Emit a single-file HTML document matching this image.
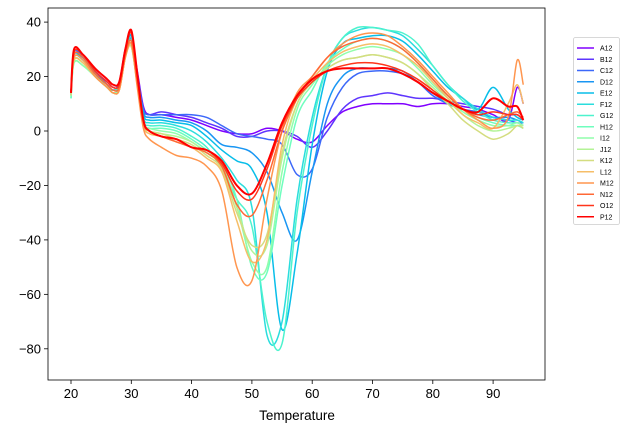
<!DOCTYPE html>
<html><head><meta charset="utf-8"><style>
body{margin:0;background:#fff;}
svg{display:block;font-family:"Liberation Sans","DejaVu Sans",sans-serif;}
</style></head><body>
<svg id="c" width="629" height="432" viewBox="0 0 629 432"></svg>
<script>
const temps=[20,20.5,22,24,26,27,28,29,30,31,32,33,35,37.5,40,42.5,45,47.5,50,52.5,55,57.5,60,62.5,65,67.5,70,72.5,75,77.5,80,82.5,85,87.5,90,92.5,94,95];
const seriesNames=["A12","B12","C12","D12","E12","F12","G12","H12","I12","J12","K12","L12","M12","N12","O12","P12"];
const sA=[13,28,27,22,18,16,17,28,34,22,9,6,6,5,4,2,0,-1,-1,1,0,-3,-4,2,7,9,10,10,10,9,10,10,9,8,6,4,16,10];
const sB=[14,29,27,22,17,15,17,29,35,21,8,6,7,6,5,3,1,-2,-2,0,0,-2,-6,0,8,12,13,14,13,12,12,11,10,9,8,6,6,4];
const sC=[14,29,27,22,17,15,18,30,35,21,8,6,6,6,6,5,2,-1,-2,-3,-5,-16,-14,5,16,21,22,22,21,18,13,10,8,7,5,4,3,3];
const sD=[14,28,27,21,17,15,17,30,35,21,7,5,5,4,3,0,-5,-6,-8,-15,-30,-40,-15,10,20,23,23,23,22,18,14,10,8,6,5,5,4,3];
const sE=[13,28,26,21,17,15,17,30,35,20,6,4,4,3,2,-2,-7,-11,-14,-30,-73,-45,-5,22,32,34,35,35,33,28,22,16,12,8,16,8,5,4];
const sF=[13,27,26,21,16,15,17,29,34,20,5,3,3,2,0,-4,-10,-18,-28,-75,-70,-25,5,24,34,37,38,37,35,30,24,17,12,8,5,4,4,3];
const sG=[12,26,25,20,16,15,17,29,33,19,4,2,2,1,-2,-6,-14,-25,-35,-70,-78,-30,2,24,34,38,38,37,36,32,24,17,11,7,4,3,3,2];
const sH=[12,25,24,20,16,14,16,28,32,18,3,1,1,0,-3,-7,-12,-25,-50,-52,-20,5,15,25,30,33,34,33,30,25,18,13,8,5,3,2,2,1];
const sI=[13,25,24,20,16,14,16,28,31,17,3,1,0,-1,-4,-8,-12,-28,-48,-50,-15,8,17,24,28,30,31,30,28,23,17,12,7,4,2,2,3,2];
const sJ=[13,26,25,20,16,14,15,27,31,17,3,0,-1,-2,-4,-8,-13,-28,-44,-42,-10,10,18,23,26,27,28,27,25,21,16,11,6,2,0,1,2,2];
const sK=[13,26,25,20,16,14,15,27,31,17,2,0,-1,-3,-5,-9,-14,-30,-42,-38,-8,10,18,23,26,27,28,27,25,21,15,10,4,0,-3,-1,2,1];
const sL=[14,26,25,20,16,14,15,27,32,17,2,-1,-2,-4,-6,-10,-15,-33,-48,-40,-5,12,19,25,29,31,32,31,28,24,18,12,6,3,1,10,17,10];
const sM=[14,27,26,20,16,14,15,27,32,16,1,-3,-6,-9,-10,-13,-22,-50,-55,-25,0,14,20,27,32,35,36,35,31,26,20,14,8,4,1,5,26,17];
const sN=[14,28,27,21,17,15,16,28,33,18,3,0,-2,-4,-6,-8,-13,-27,-31,-18,0,12,20,27,31,33,34,33,30,25,19,13,8,5,4,6,7,5];
const sO=[14,29,28,22,18,16,17,29,36,20,4,0,-2,-3,-6,-7,-12,-22,-25,-14,2,12,18,22,24,25,25,24,22,19,15,11,8,6,7,6,6,4];
const sP=[14,30,28,23,19,17,18,30,37,21,4,0,-2,-3,-6,-7,-11,-20,-23,-12,3,13,19,22,23,23,23,23,21,18,14,11,8,7,12,9,9,4];
const allSeries=[sA,sB,sC,sD,sE,sF,sG,sH,sI,sJ,sK,sL,sM,sN,sO,sP];
const xTicks=[20,30,40,50,60,70,80,90];
const yTicks=[40,20,0,-20,-40,-60,-80];

const NS="http://www.w3.org/2000/svg";
const svg=document.getElementById('c');
const L=48,R=545,T=8,B=380;
function x(t){return 71+(t-20)*6.03;}
function y(v){return 131-v*2.7225;}
function mk(tag,attrs,parent){const e=document.createElementNS(NS,tag);for(const k in attrs)e.setAttribute(k,attrs[k]);(parent||svg).appendChild(e);return e;}
function cl(v){return Math.max(0,Math.min(1,v));}
function color(i){const f=i/15;const r=cl(Math.abs(2*f-0.5)),g=cl(Math.sin(Math.PI*f)),b=cl(Math.cos(Math.PI*f/2));return `rgb(${Math.round(r*255)},${Math.round(g*255)},${Math.round(b*255)})`;}
// smooth path through points (Catmull-Rom)
function smoothPath(pts){
  let d='M'+pts[0][0].toFixed(1)+','+pts[0][1].toFixed(1);
  for(let i=0;i<pts.length-1;i++){
    const p0=pts[Math.max(0,i-1)],p1=pts[i],p2=pts[i+1],p3=pts[Math.min(pts.length-1,i+2)];
    const c1=[p1[0]+(p2[0]-p0[0])/6,p1[1]+(p2[1]-p0[1])/6];
    const c2=[p2[0]-(p3[0]-p1[0])/6,p2[1]-(p3[1]-p1[1])/6];
    d+=`C${c1[0].toFixed(1)},${c1[1].toFixed(1)} ${c2[0].toFixed(1)},${c2[1].toFixed(1)} ${p2[0].toFixed(1)},${p2[1].toFixed(1)}`;
  }
  return d;
}

const clip=mk('clipPath',{id:'pc'});mk('rect',{x:L,y:T,width:R-L,height:B-T},clip);
const lines=mk('g',{'clip-path':'url(#pc)'});


allSeries.forEach((s,i)=>{
  const p=mk('path',{d:smoothPath(s.map((v,j)=>[x(temps[j]),y(v)])),fill:'none',stroke:color(i),'stroke-width':i==15?2:1.5,'stroke-linejoin':'round'},lines);
  
  
});
const frame=mk('rect',{x:L,y:T,width:R-L,height:B-T,fill:'none',stroke:'#000','stroke-width':0.8});


xTicks.forEach(t=>{
  mk('line',{x1:x(t),x2:x(t),y1:B,y2:B+4,stroke:'#000','stroke-width':0.8});
  const tx=mk('text',{x:x(t),y:B+18,'text-anchor':'middle','font-size':13});tx.textContent=t;
  
  
});
yTicks.forEach(v=>{
  mk('line',{x1:L-4,x2:L,y1:y(v),y2:y(v),stroke:'#000','stroke-width':0.8});
  const tx=mk('text',{x:L-7,y:y(v)+4.5,'text-anchor':'end','font-size':13});tx.textContent=v<0?'\u2212'+(-v):v;
  
  
});
const xl=mk('text',{x:297,y:420,'text-anchor':'middle','font-size':13.5});xl.textContent='Temperature';


const lg=mk('g',{});


mk('rect',{x:573.5,y:37.5,width:46,height:187,rx:2,fill:'#fff',stroke:'#ccc','stroke-width':0.8},lg);
seriesNames.forEach((n,i)=>{
  const yy=48+i*11.25;
  const e=mk('g',{},lg);
  
  
  mk('line',{x1:577,x2:594,y1:yy,y2:yy,stroke:color(i),'stroke-width':1.5},e);
  const t=mk('text',{x:600,y:yy+2.5,'font-size':7},e);t.textContent=n;
});
</script>
</body></html>
